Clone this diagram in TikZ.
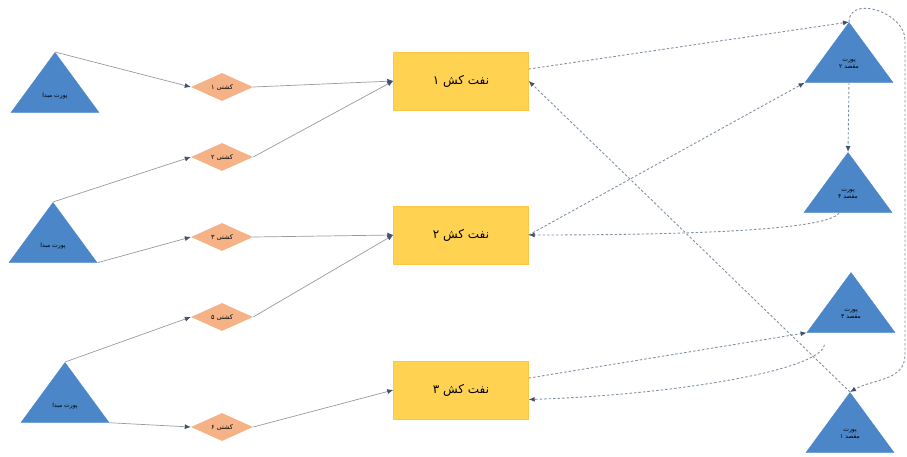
\documentclass[tikz,border=0pt]{standalone}
\usepackage{fontspec}
\newfontfamily\fa[Script=Arabic]{DejaVu Sans}
\TeXXeTstate=1
\usepackage{tikz}
\usetikzlibrary{positioning,calc,shapes.geometric,arrows.meta}
\definecolor{portblue}{RGB}{74,134,200}
\definecolor{tankyellow}{RGB}{255,210,82}
\definecolor{shipsalmon}{RGB}{244,178,134}
\definecolor{linegray}{RGB}{150,155,160}
\definecolor{dashgray}{RGB}{130,145,165}
\definecolor{tipblue}{RGB}{62,82,112}
\tikzstyle{port_node}=[isosceles triangle, isosceles triangle stretches, shape border rotate=90, minimum width=88pt, minimum height=60pt, inner sep=0pt, fill=portblue, draw=portblue, font=\fa\fontsize{6}{7}\selectfont, align=center]
\tikzstyle{ship_node}=[diamond, aspect=2.2, minimum width=62pt, minimum height=28pt, inner sep=0pt, fill=shipsalmon, draw=none, font=\fa\fontsize{6.5}{7}\selectfont]
\tikzstyle{tanker_node}=[rectangle, minimum width=135pt, minimum height=58pt, fill=tankyellow, draw=tankyellow!85!orange, font=\fa\fontsize{12}{14}\selectfont]
\tikzstyle{feed_edge}=[draw=linegray, line width=0.7pt, -{Latex[length=6pt,width=5pt,color=tipblue]}]
\tikzstyle{route_edge}=[draw=dashgray, line width=0.9pt, dash pattern=on 2.5pt off 2pt, -{Latex[length=6pt,width=5pt,color=tipblue]}]

\begin{document}
\begin{tikzpicture}[x=1pt, y=-1pt]
        \useasboundingbox (0,0) rectangle (907,456);
        % source ports
        \node [port_node, anchor=apex] (0) at (55,52) {\beginR پورت مبدا\endR};
        \node [port_node, anchor=apex] (1) at (53,202) {\beginR پورت مبدا\endR};
        \node [port_node, anchor=apex] (2) at (65,362) {\beginR پورت مبدا\endR};
        % ships
        \node [ship_node] (3) at (222,87) {\beginR کشتی ۱\endR};
        \node [ship_node] (4) at (222,157) {\beginR کشتی ۲\endR};
        \node [ship_node] (5) at (222,237) {\beginR کشتی ۳\endR};
        \node [ship_node] (6) at (222,317) {\beginR کشتی ۵\endR};
        \node [ship_node] (7) at (222,427) {\beginR کشتی ۶\endR};
        % tankers
        \node [tanker_node] (8) at (461,81) {\beginR نفت کش ۱\endR};
        \node [tanker_node] (9) at (461,235) {\beginR نفت کش ۲\endR};
        \node [tanker_node] (10) at (461,390) {\beginR نفت کش ۳\endR};
        % destination ports
        \node [port_node, anchor=apex] (11) at (849,22) {\beginR پورت\endR\\\beginR مقصد ۲\endR};
        \node [port_node, anchor=apex] (12) at (848,152) {\beginR پورت\endR\\\beginR مقصد ۴\endR};
        \node [port_node, anchor=apex] (13) at (851,272) {\beginR پورت\endR\\\beginR مقصد ۳\endR};
        \node [port_node, anchor=apex] (14) at (850,392) {\beginR پورت\endR\\\beginR مقصد ۱\endR};
        \coordinate (15) at (905,40);
        \coordinate (16) at (905,355);
        \coordinate (17) at ($(12.left corner)!0.4!(12.right corner)$);
        \coordinate (18) at ($(13.left corner)!0.2!(13.right corner)+(0,12)$);
        \draw[style={feed_edge}]{} (0.apex) to (3.west);
        \draw[style={feed_edge}]{} (3.east) to (8.west);
        \draw[style={feed_edge}]{} (1.apex) to (4.west);
        \draw[style={feed_edge}]{} (4.east) to (8.west);
        \draw[style={feed_edge}]{} (1.right corner) to (5.west);
        \draw[style={feed_edge}]{} (5.east) to (9.west);
        \draw[style={feed_edge}]{} (2.apex) to (6.west);
        \draw[style={feed_edge}]{} (6.east) to (9.west);
        \draw[style={feed_edge}]{} (2.right corner) to (7.west);
        \draw[style={feed_edge}]{} (7.east) to (10.west);
        \draw[style={route_edge}]{} (8.10) to (11.apex);
        \draw[style={route_edge}]{} (11.south) to (12.apex);
        \draw[style={route_edge}]{} (11.apex) to[out=90, in=90, looseness=1.2] (15) -- (16) to[out=-90, in=30] (14.apex);
        \draw[style={route_edge}]{} (9.east) to (11.left corner);
        \draw[style={route_edge}]{} (17) .. controls +(-10,18) and +(150,0) .. (9.east);
        \draw[style={route_edge}]{} (14.apex) to (8.east);
        \draw[style={route_edge}]{} (10.10) to (13.left corner);
        \draw[style={route_edge}]{} (18) .. controls +(-3,25) and +(150,-5) .. (10.-8);
    \end{tikzpicture}
\end{document}
